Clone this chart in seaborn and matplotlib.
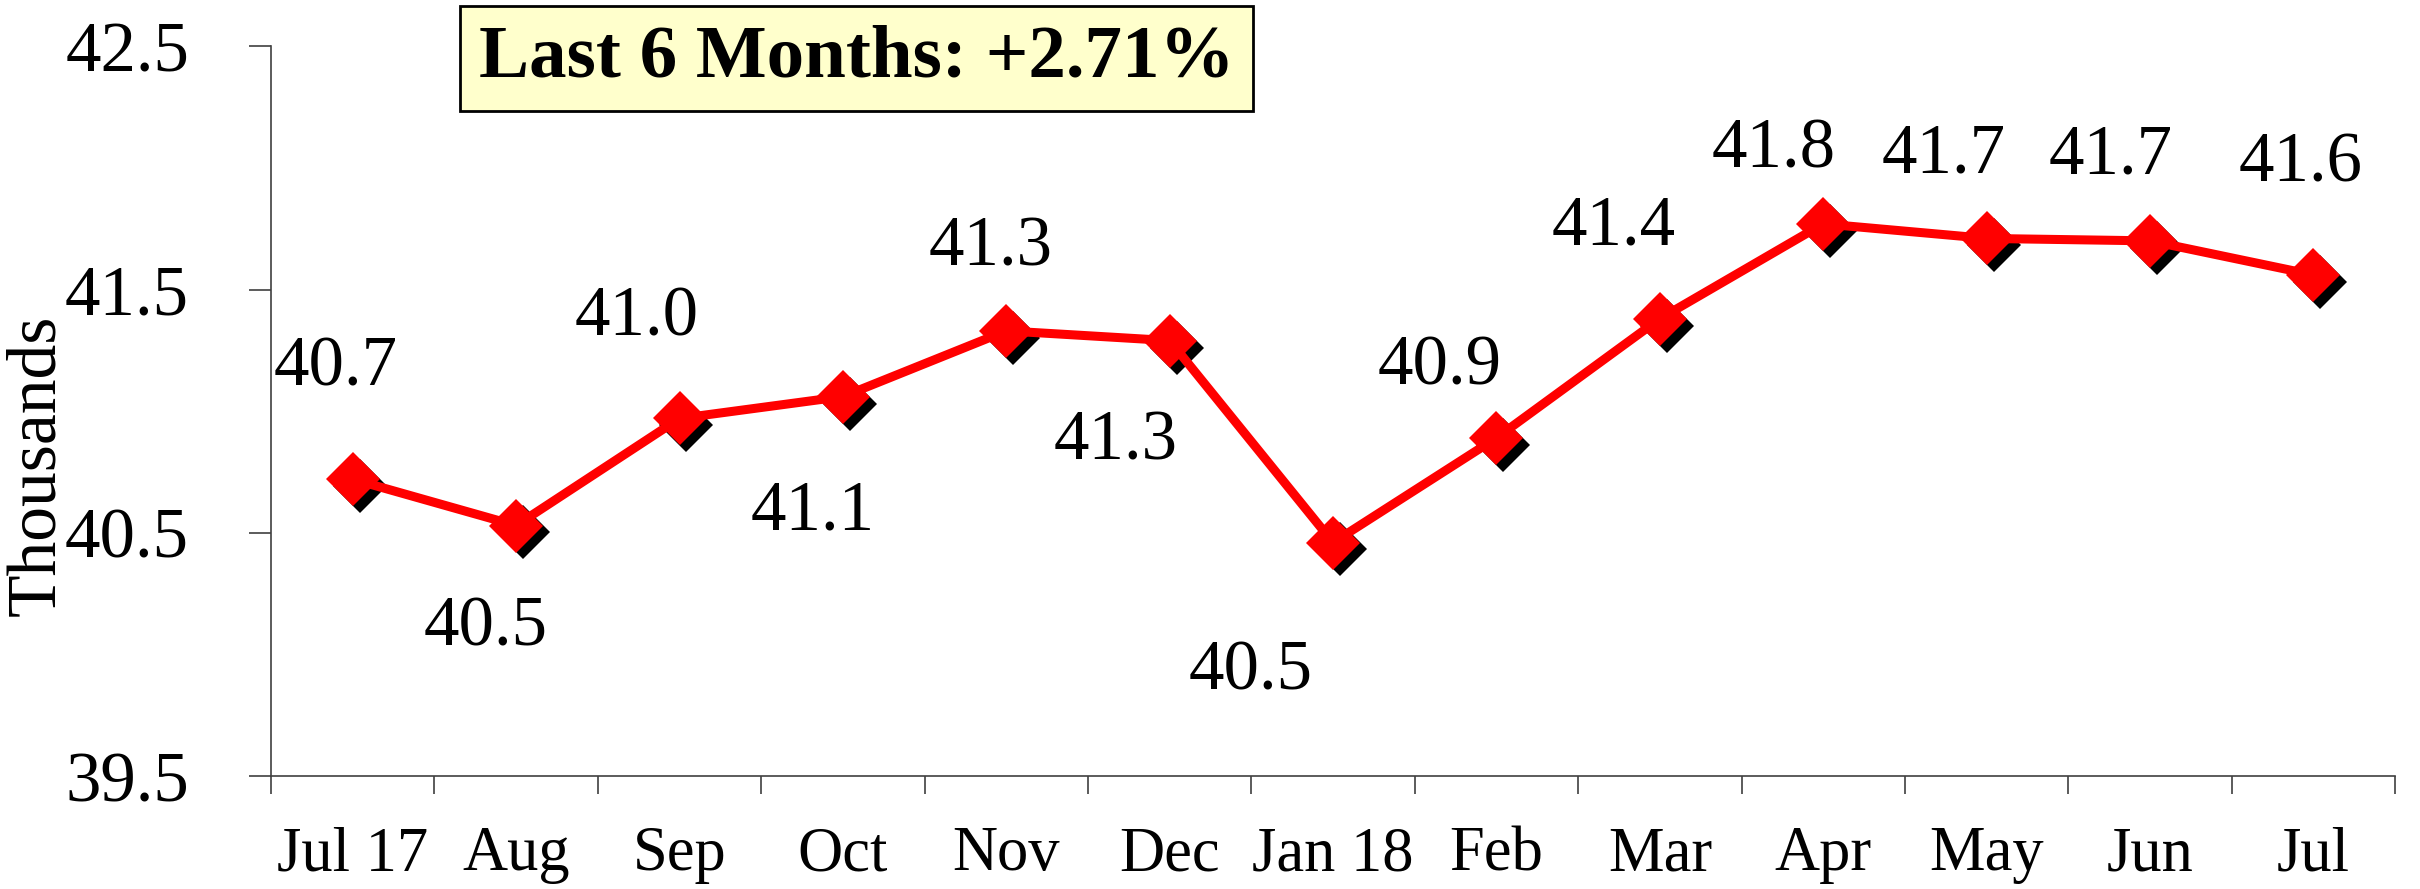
import matplotlib
matplotlib.use('Agg')
import matplotlib.pyplot as plt
import matplotlib.transforms as mtransforms
import seaborn as sns
import pandas as pd

# values (thousands)
months = ['Jul 17', 'Aug', 'Sep', 'Oct', 'Nov', 'Dec', 'Jan 18',
          'Feb', 'Mar', 'Apr', 'May', 'Jun', 'Jul']
values = [40.72, 40.53, 40.97, 41.06, 41.33, 41.29, 40.46,
          40.89, 41.38, 41.77, 41.71, 41.70, 41.56]
y_ticks = [39.5, 40.5, 41.5, 42.5]
headline = 'Last 6 Months: +2.71%'

# where each value label sits relative to its point (points)
label_offsets = [(-12, 80), (-22, -74), (-31, 72), (-22, -83), (-11, 60),
                 (-39, -73), (-59, -93), (-41, 51), (-33, 66), (-36, 53),
                 (-31, 60), (-28, 61), (-9, 80)]

sns.set_theme(style='white')
plt.rcParams['font.family'] = ['Liberation Serif', 'DejaVu Serif']
plt.rcParams['text.color'] = 'black'
plt.rcParams['xtick.color'] = 'black'
plt.rcParams['ytick.color'] = 'black'
plt.rcParams['axes.labelcolor'] = 'black'

df = pd.DataFrame({'month': months, 'value': values})
df['pos'] = range(len(df))

fig, ax = plt.subplots(figsize=(24.2, 8.89), dpi=100)
fig.subplots_adjust(left=0.112, right=0.9897, top=0.948, bottom=0.127)

# drop shadow behind the markers
shadow = ax.transData + mtransforms.ScaledTranslation(5 / 72, -5 / 72, fig.dpi_scale_trans)
ax.plot(df['pos'], df['value'], linestyle='none', marker='D', markersize=27,
        color='black', markeredgewidth=0, transform=shadow)
sns.lineplot(data=df, x='pos', y='value', ax=ax, color='red', linewidth=6.5,
             marker='D', markersize=27, markeredgewidth=0, markeredgecolor='red')

for (i, row), off in zip(df.iterrows(), label_offsets):
    ax.annotate(f"{row['value']:.1f}", (row['pos'], row['value']), xytext=off,
                textcoords='offset points', ha='center', va='center', fontsize=51,
                color='black')

ax.set_xlim(-0.5, len(months) - 0.5)
ax.set_ylim(y_ticks[0], y_ticks[-1])
ax.set_yticks(y_ticks)
ax.set_yticklabels([f'{t:.1f}' for t in y_ticks], fontsize=51)
ax.set_xticks(df['pos'])
ax.set_xticklabels(months, fontsize=45)
ax.set_xticks([p - 0.5 for p in range(len(months) + 1)], minor=True)
ax.tick_params(axis='x', which='major', length=0, pad=36)
ax.tick_params(axis='x', which='minor', length=13, width=1.2, color='#404040',
               direction='out', bottom=True)
ax.tick_params(axis='y', length=16, width=1.2, color='#404040', direction='out',
               pad=43, left=True)

for s in ['top', 'right']:
    ax.spines[s].set_visible(False)
for s in ['left', 'bottom']:
    ax.spines[s].set_color('#404040')
    ax.spines[s].set_linewidth(1.2)

ax.set_xlabel('')
ax.set_ylabel('Thousands', fontsize=50)
ax.yaxis.set_label_coords(-0.095, 0.426)

fig.text(0.354, 0.934, headline, fontsize=54, fontweight='bold', ha='center', va='center',
         color='black',
         bbox=dict(boxstyle='square,pad=0.25', fc='#FFFFCC', ec='black', lw=2))

fig.savefig('out.png', dpi=100)
